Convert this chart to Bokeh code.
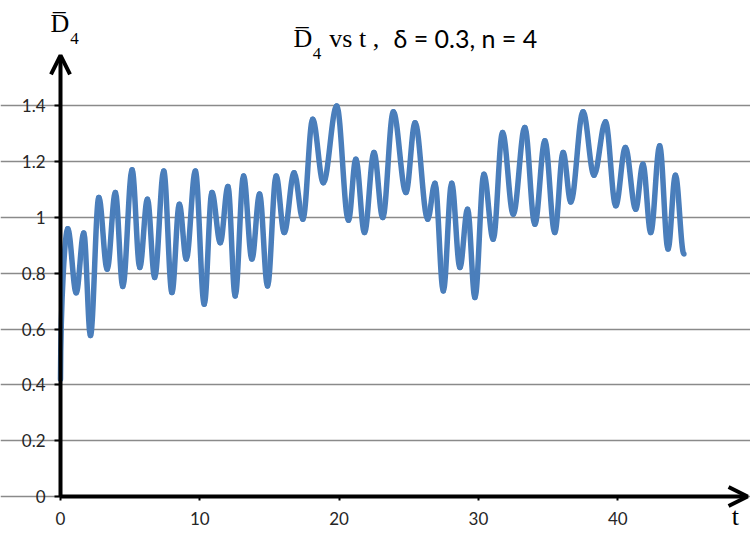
import numpy as np
from bokeh.plotting import figure
from bokeh.models import Range1d, FixedTicker, Label, Arrow, OpenHead, ColumnDataSource
from bokeh.embed import file_html
from bokeh.resources import INLINE

# ---- data (turning points of the curve) ----
t_pts = [0.0, 0.52, 1.13, 1.67, 2.15, 2.75, 3.35, 3.94, 4.47, 5.14, 5.69, 6.24, 6.76,
         7.41, 8.0, 8.53, 9.03, 9.68, 10.32, 10.87, 11.47, 12.02, 12.54, 13.14, 13.74,
         14.29, 14.86, 15.48, 16.06, 16.77, 17.4, 18.1, 18.87, 19.83, 20.67, 21.2, 21.82,
         22.5, 23.13, 23.89, 24.8, 25.45, 26.36, 26.88, 27.48, 28.08, 28.67, 29.22, 29.75,
         30.39, 31.06, 31.73, 32.5, 33.33, 34.05, 34.77, 35.48, 36.08, 36.63, 37.51, 38.3,
         39.12, 39.86, 40.55, 41.29, 41.81, 42.37, 43.01, 43.61, 44.14, 44.75]
d_pts = [0.42, 0.96, 0.73, 0.945, 0.577, 1.072, 0.815, 1.09, 0.753, 1.171, 0.821, 1.066, 0.785,
         1.167, 0.731, 1.048, 0.851, 1.167, 0.689, 1.09, 0.91, 1.111, 0.719, 1.149, 0.851,
         1.084, 0.755, 1.149, 0.946, 1.161, 0.994, 1.352, 1.125, 1.40, 0.99, 1.209, 0.946,
         1.233, 1.0, 1.379, 1.09, 1.34, 0.994, 1.123, 0.737, 1.123, 0.821, 1.03, 0.713,
         1.155, 0.922, 1.305, 1.012, 1.323, 0.976, 1.275, 0.946, 1.233, 1.056, 1.379, 1.152,
         1.343, 1.042, 1.251, 1.03, 1.191, 0.946, 1.257, 0.887, 1.152, 0.869]

x_ticks = [0, 10, 20, 30, 40]
y_ticks = [0, 0.2, 0.4, 0.6, 0.8, 1.0, 1.2, 1.4]
y_tick_labels = ["0", "0.2", "0.4", "0.6", "0.8", "1", "1.2", "1.4"]

# ---- smooth curve through the turning points (bezier segments) ----
t = np.array(t_pts)
d = np.array(d_pts)
x0, y0, x1, y1 = t[:-1], d[:-1], t[1:], d[1:]
dx = x1 - x0
k = 0.3642
cx0 = x0 + k * dx
cy0 = y0.copy()
cx1 = x1 - k * dx
cy1 = y1.copy()
# first segment starts steeply (not a turning point)
cx0[0] = x0[0] + 0.05 * dx[0]
cy0[0] = y0[0] + 0.55 * (y1[0] - y0[0])
src = ColumnDataSource(dict(x0=x0, y0=y0, x1=x1, y1=y1, cx0=cx0, cy0=cy0, cx1=cx1, cy1=cy1))

# frame covers the whole canvas; axes sit at t=0 / D=0
X_START, X_END = -4.307, 49.53
Y_START, Y_END = -0.172, 1.778
X_TIP = 49.32
Y_TIP = 1.581

p = figure(width=750, height=544, x_range=Range1d(X_START, X_END), y_range=Range1d(Y_START, Y_END),
           output_backend="svg", toolbar_location=None, min_border=0)
p.outline_line_color = None
p.background_fill_color = "white"
p.border_fill_color = "white"

p.xgrid.visible = False
p.ygrid.ticker = FixedTicker(ticks=y_ticks)
p.ygrid.grid_line_color = "#8a8a8a"
p.ygrid.grid_line_width = 1.3
p.ygrid.bounds = (0, X_END)

for ax in (p.xaxis[0], p.yaxis[0]):
    ax.fixed_location = 0
    ax.axis_line_color = None
    ax.major_tick_line_color = "black"
    ax.major_tick_line_width = 2
    ax.major_tick_in = 0
    ax.minor_tick_line_color = None
    ax.major_label_text_font = "Lato"
    ax.major_label_text_font_size = "17px"
    ax.major_label_text_color = "#262626"

p.xaxis.ticker = FixedTicker(ticks=x_ticks)
p.xaxis.major_tick_out = 4
p.xaxis.major_label_standoff = 11
p.yaxis.ticker = FixedTicker(ticks=y_ticks)
p.yaxis.major_tick_out = 6
p.yaxis.major_label_standoff = 9
p.yaxis.major_label_overrides = {v: s for v, s in zip(y_ticks, y_tick_labels)}

p.bezier(x0="x0", y0="y0", x1="x1", y1="y1", cx0="cx0", cy0="cy0", cx1="cx1", cy1="cy1",
         source=src, line_color="#4A7EBB", line_width=5.5, line_cap="round", line_join="round")

# axes with arrow heads
p.add_layout(Arrow(end=OpenHead(size=19, line_width=4, line_color="black"),
                   x_start=0, y_start=0, x_end=X_TIP, y_end=0,
                   line_width=4, line_color="black"))
p.add_layout(Arrow(end=OpenHead(size=19, line_width=4, line_color="black"),
                   x_start=0, y_start=0, x_end=0, y_end=Y_TIP,
                   line_width=4, line_color="black"))

serif = "Liberation Serif"
# y-axis name
p.add_layout(Label(x=-0.72, y=1.645, text="D\u0305", text_font=serif,
                   text_font_size="26px", text_color="black"))
p.add_layout(Label(x=0.70, y=1.622, text="4", text_font=serif,
                   text_font_size="17px", text_color="black"))
# x-axis name
p.add_layout(Label(x=48.45, y=-0.122, text="t", text_font=serif, text_align="center",
                   text_font_size="26px", text_color="black"))
# title
p.add_layout(Label(x=16.73, y=1.591, text="D\u0305", text_font=serif,
                   text_font_size="26px", text_color="black"))
p.add_layout(Label(x=18.10, y=1.570, text="4", text_font=serif,
                   text_font_size="17px", text_color="black"))
p.add_layout(Label(x=19.30, y=1.591, text="vs  t ,", text_font=serif,
                   text_font_size="26px", text_color="black"))
p.add_layout(Label(x=23.9, y=1.591, text="\u03b4 = 0.3, n = 4", text_font="Lato",
                   text_font_size="25px", text_color="black"))

open("out.html", "w").write(file_html(p, INLINE))
